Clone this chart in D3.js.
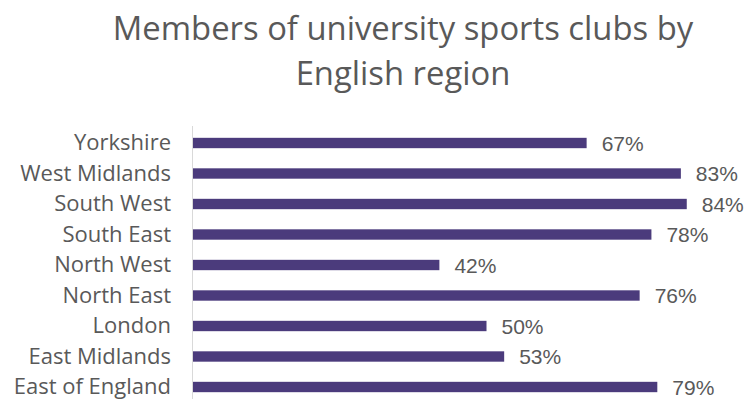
<!DOCTYPE html>
<html>
<head>
<meta charset="utf-8">
<script src="https://cdn.jsdelivr.net/npm/d3@7/dist/d3.min.js"></script>
<style>
  html, body { margin: 0; padding: 0; background: #fff; }
  svg { display: block; }
</style>
</head>
<body>
<svg id="chart" width="751" height="399"></svg>
<script>
// Regions, top to bottom
const regions = ["Yorkshire", "West Midlands", "South West", "South East", "North West",
                 "North East", "London", "East Midlands", "East of England"];
// Share of students who are members of a university sports club (%)
const memberPct = [67, 83, 84, 78, 42, 76, 50, 53, 79];
const titleLines = ["Members of university sports clubs by", "English region"];

const svg = d3.select("#chart");
const textColor = "#595959";
const barColor = "#4b3b7c";
const uiFont = "'Open Sans', Lato, sans-serif";

const x = d3.scaleLinear().domain([0, 100]).range([192, 781]);
const y = d3.scaleBand().domain(regions).range([127.75, 402.25]).paddingInner(0.66).paddingOuter(0.33);

// Title
svg.append("text")
  .attr("text-anchor", "middle")
  .attr("font-family", uiFont)
  .attr("font-size", 32.8)
  .attr("fill", textColor)
  .selectAll("tspan").data(titleLines).join("tspan")
  .attr("x", 403).attr("y", (d, i) => 40 + i * 45)
  .text(d => d);

// Bars
svg.append("g").selectAll("rect").data(regions).join("rect")
  .attr("x", x(0))
  .attr("y", d => y(d))
  .attr("width", (d, i) => x(memberPct[i]) - x(0))
  .attr("height", y.bandwidth())
  .attr("fill", barColor);

// Category axis
const yAxis = svg.append("g")
  .attr("transform", `translate(${x(0)},0)`)
  .call(d3.axisLeft(y).tickSize(0).tickPadding(21));
yAxis.select(".domain").attr("stroke", "#d9d9d9").attr("d", "M0.5,126V399");
yAxis.selectAll("text")
  .attr("font-family", uiFont)
  .attr("font-size", 22)
  .attr("fill", textColor);

// Value labels
svg.append("g").selectAll("text").data(regions).join("text")
  .attr("x", (d, i) => x(memberPct[i]) + 15)
  .attr("y", d => y(d) + y.bandwidth() / 2)
  .attr("dy", "0.36em")
  .attr("font-family", "'Liberation Sans', Arial, sans-serif")
  .attr("font-size", 21)
  .attr("fill", textColor)
  .text((d, i) => memberPct[i] + "%");
</script>
</body>
</html>
